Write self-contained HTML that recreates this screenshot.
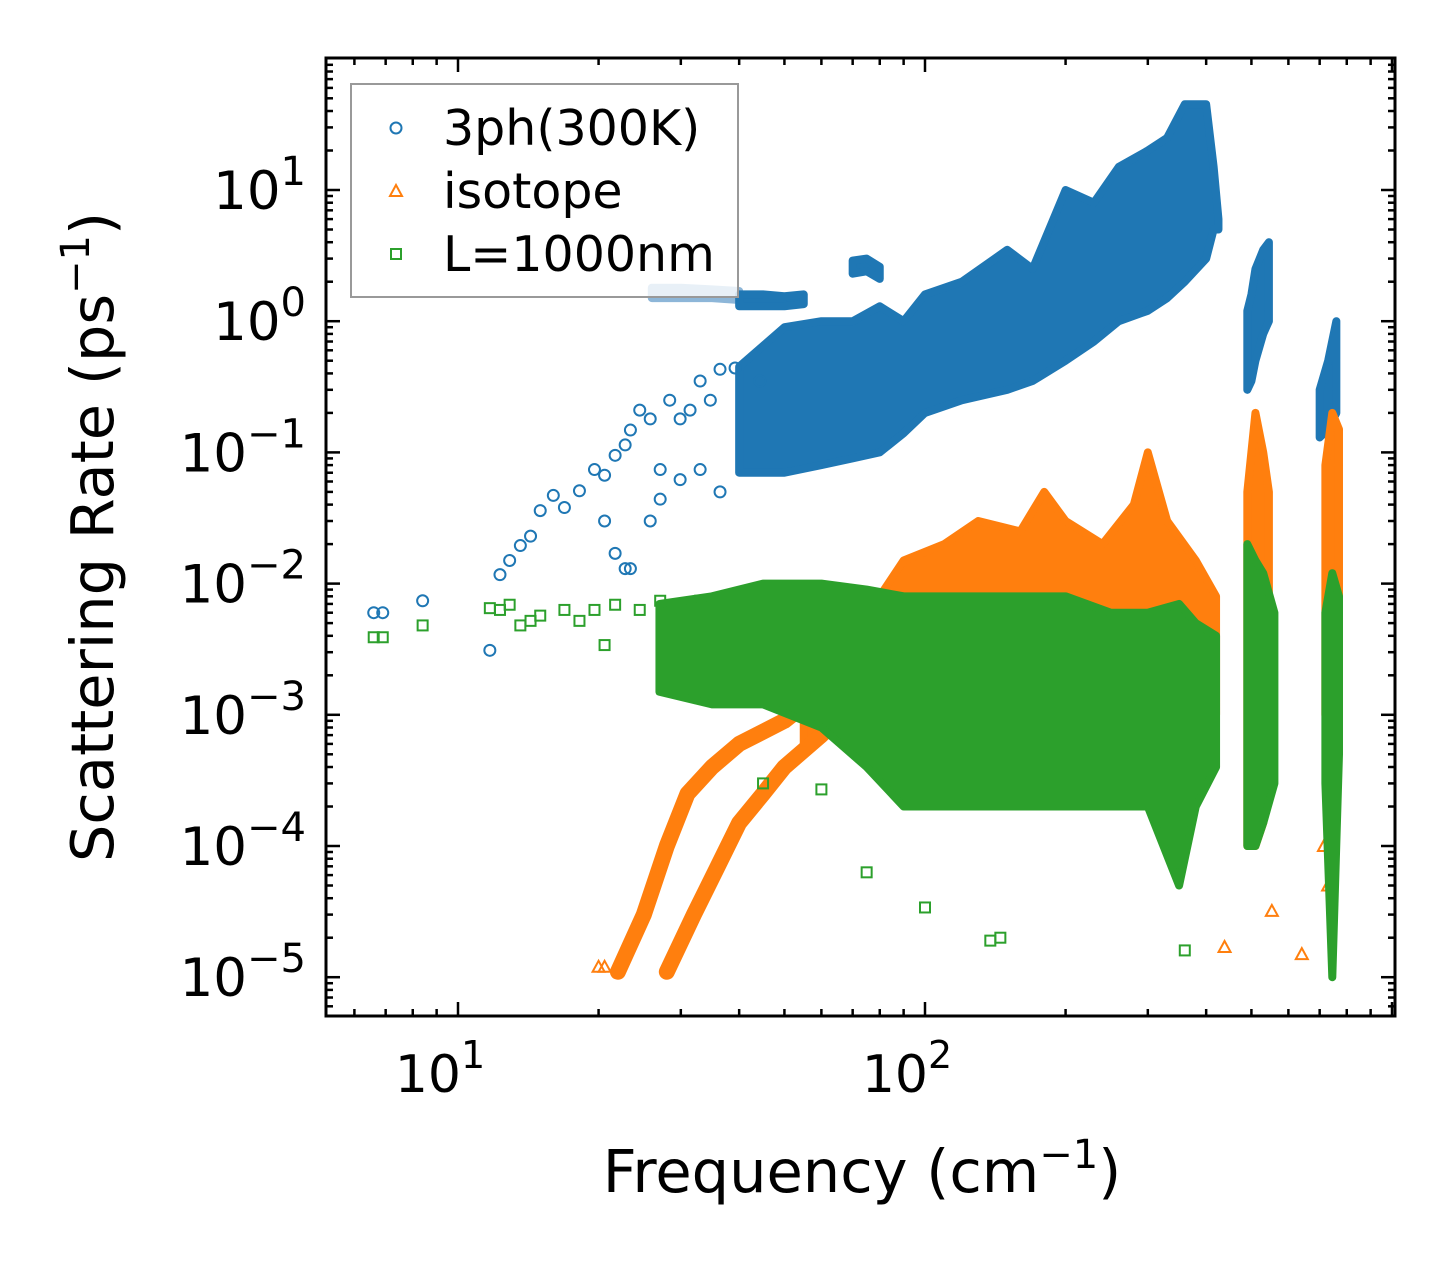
<!DOCTYPE html>
<html><head><meta charset="utf-8"><style>
body{margin:0;background:#fff;width:1455px;height:1265px;overflow:hidden}
svg text{font-family:"DejaVu Sans","Liberation Sans",sans-serif;fill:#000}
</style></head><body>
<svg id="chart" width="1455" height="1265" xmlns="http://www.w3.org/2000/svg">
<rect x="0" y="0" width="1455" height="1265" fill="#fff"/>
<g id="marks"></g>
<g id="axes"></g>
</svg>
<script>
// ---- data (frequency cm^-1, rate ps^-1) ----
const xTickVals=[10,100];
const yTickVals=[10,1,0.1,0.01,0.001,0.0001,0.00001];
const yTickExp=["1","0","\u22121","\u22122","\u22123","\u22124","\u22125"];
// blue
const blueF=[40,50,60,70,80,90,100,120,150,170,200,230,260,300,330,360,400,415,425];
const blueHi=[0.45,0.9,1.0,1.0,1.3,1.0,1.6,2.0,3.5,2.5,10,8,15,20,25,45,45,15,6];
const blueLo=[0.07,0.07,0.08,0.09,0.1,0.14,0.2,0.25,0.3,0.35,0.5,0.7,1.0,1.2,1.5,2.0,3,5,5];
const blue2F=[490,500,510,530,545];
const blue2Hi=[1.2,1.6,2.5,3.5,4];
const blue2Lo=[0.3,0.35,0.5,0.8,1.0];
const blue3F=[700,730,760];
const blue3Hi=[0.3,0.5,1.0];
const blue3Lo=[0.13,0.15,0.2];
const bluePaleF=[26,30,35,40];
const bluePaleHi=[1.8,1.8,1.75,1.7];
const bluePaleLo=[1.5,1.5,1.5,1.45];
const blueBrF=[40,45,50,55];
const blueBrHi=[1.6,1.6,1.55,1.6];
const blueBrLo=[1.3,1.3,1.3,1.35];
const blueLumpF=[70,75,80];
const blueLumpHi=[2.9,3.0,2.6];
const blueLumpLo=[2.3,2.4,2.1];
const blueSF=[6.6,6.9,8.4,11.7,12.3,12.9,13.6,14.3,15,16,16.9,18.2,19.6,20.6,21.7,22.8,23.4,24.5,25.8,27.1,28.4,29.9,31.4,33,34.7,36.4,39.2,44.3,20.6,21.7,22.8,23.4,25.8,27.1,29.9,33,36.4];
const blueSR=[0.006,0.006,0.0074,0.0031,0.0117,0.015,0.0195,0.023,0.036,0.047,0.038,0.051,0.074,0.067,0.095,0.114,0.148,0.21,0.18,0.074,0.25,0.18,0.21,0.35,0.25,0.43,0.44,0.35,0.03,0.017,0.013,0.013,0.03,0.044,0.062,0.074,0.05];
// orange
const orF=[55,65,80,90,110,130,160,180,200,240,280,300,330,380,420];
const orHi=[0.0012,0.003,0.008,0.015,0.02,0.03,0.025,0.05,0.03,0.02,0.04,0.1,0.03,0.015,0.008];
const orLo=[0.0006,0.0008,0.0008,0.001,0.001,0.001,0.001,0.001,0.001,0.001,0.001,0.001,0.001,0.001,0.001];
const orAF=[22,25,28,31,35,40,50,60];
const orAR=[1.1e-5,3e-5,1e-4,2.5e-4,4e-4,6e-4,9e-4,1.5e-3];
const orBF=[28,32,36,40,45,50,60,70];
const orBR=[1.1e-5,3e-5,7e-5,1.5e-4,2.5e-4,4e-4,7e-4,1.3e-3];
const or2F=[490,510,530,545];
const or2Hi=[0.05,0.2,0.1,0.05];
const or2Lo=[1e-4,1e-4,1.5e-4,3e-4];
const or3F=[720,745,770];
const or3Hi=[0.08,0.2,0.15];
const or3Lo=[1e-3,5e-4,1e-3];
const orSF=[20,20.6,438,553,641,715,730];
const orSR=[1.2e-5,1.2e-5,1.7e-5,3.2e-5,1.5e-5,1e-4,5e-5];
// green
const grF=[27,35,45,60,75,90,110,150,200,250,300,350,380,420];
const grHi=[0.007,0.008,0.01,0.01,0.009,0.008,0.008,0.008,0.008,0.006,0.006,0.007,0.005,0.004];
const grLo=[0.0015,0.0012,0.0012,0.0008,0.0004,0.0002,0.0002,0.0002,0.0002,0.0002,0.0002,0.00005,0.0002,0.0004];
const gr2F=[490,510,530,560];
const gr2Hi=[0.02,0.015,0.012,0.006];
const gr2Lo=[1e-4,1e-4,1.5e-4,3e-4];
const gr3F=[720,745,770];
const gr3Hi=[0.006,0.012,0.008];
const gr3Lo=[3e-4,1e-5,5e-4];
const grSF=[6.6,6.9,8.4,11.7,12.3,12.9,13.6,14.3,15,16.9,18.2,19.6,20.6,21.7,24.5,27.1,29.9,33,75,100,138,145,360,45,60];
const grSR=[0.0039,0.0039,0.0048,0.0065,0.0063,0.0069,0.0048,0.0052,0.0057,0.0063,0.0052,0.0063,0.0034,0.0069,0.0063,0.0074,0.0063,0.0074,6.3e-5,3.4e-5,1.9e-5,2e-5,1.6e-5,3e-4,2.7e-4];

// ---- axes functions ----
const L=326,R=1395,T=58,B=1016;
const X=f=>458+(Math.log10(f)-1)*467;
const Y=r=>190-(Math.log10(r)-1)*131.2;
const NS="http://www.w3.org/2000/svg";
const marks=document.getElementById('marks'), axes=document.getElementById('axes');
function mk(tag,attrs,parent){const e=document.createElementNS(NS,tag);for(const k in attrs)e.setAttribute(k,attrs[k]);parent.appendChild(e);return e;}
const C={b:"#1f77b4",o:"#ff7f0e",g:"#2ca02c"};
function band(F,Hi,Lo,col,name){
  let p=F.map((f,i)=>X(f)+","+Y(Hi[i]));
  for(let i=F.length-1;i>=0;i--)p.push(X(F[i])+","+Y(Lo[i]));
  const e=mk('polygon',{points:p.join(' '),fill:col,stroke:col,'stroke-width':8,'stroke-linejoin':'round'},marks);
  
  
}
function curve(F,Rr,col,name){
  const e=mk('polyline',{points:F.map((f,i)=>X(f)+","+Y(Rr[i])).join(' '),fill:'none',stroke:col,'stroke-width':16,'stroke-linecap':'round','stroke-linejoin':'round'},marks);
  
  
}
function circle(x,y,parent){return mk('circle',{cx:x,cy:y,r:5.5,fill:'none',stroke:C.b,'stroke-width':2},parent);}
function tri(x,y,parent){return mk('polygon',{points:`${x},${y-6} ${x+6},${y+5} ${x-6},${y+5}`,fill:'none',stroke:C.o,'stroke-width':2},parent);}
function sq(x,y,parent){return mk('rect',{x:x-5,y:y-5,width:10,height:10,fill:'none',stroke:C.g,'stroke-width':2},parent);}
function scatter(F,Rr,fn,name){F.forEach((f,i)=>{const e=fn(X(f),Y(Rr[i]),marks);
  
  });}

band(blueF,blueHi,blueLo,C.b,'3ph-main-band');
band(blue2F,blue2Hi,blue2Lo,C.b,'3ph-band-500');
band(blue3F,blue3Hi,blue3Lo,C.b,'3ph-band-740');
band(bluePaleF,bluePaleHi,bluePaleLo,"#8db6d8",'3ph-pale-band');
band(blueBrF,blueBrHi,blueBrLo,C.b,'3ph-branch');
band(blueLumpF,blueLumpHi,blueLumpLo,C.b,'3ph-lump');
scatter(blueSF,blueSR,circle,'3ph-point');
band(orF,orHi,orLo,C.o,'isotope-main-band');
curve(orAF,orAR,C.o,'isotope-curve-a');
curve(orBF,orBR,C.o,'isotope-curve-b');
band(or2F,or2Hi,or2Lo,C.o,'isotope-band-500');
band(or3F,or3Hi,or3Lo,C.o,'isotope-band-740');
scatter(orSF,orSR,tri,'isotope-point');
band(grF,grHi,grLo,C.g,'boundary-main-band');
band(gr2F,gr2Hi,gr2Lo,C.g,'boundary-band-500');
band(gr3F,gr3Hi,gr3Lo,C.g,'boundary-band-740');
scatter(grSF,grSR,sq,'boundary-point');

// ---- axes ----
let fr=mk('rect',{x:L,y:T,width:R-L,height:B-T,fill:'none',stroke:'#000','stroke-width':3},axes);


function tk(x1,y1,x2,y2){mk('line',{x1,y1,x2,y2,stroke:'#000','stroke-width':2.5},axes);}
for(let d=1;d<=1000;d*=10){for(let m=1;m<10;m++){const f=d*m;const x=X(f);if(x<L+1||x>R-1)continue;const len=m===1?14:7;tk(x,B,x,B-len);tk(x,T,x,T+len);}}
for(let d=1e-6;d<=100;d*=10){for(let m=1;m<10;m++){const r=d*m;const y=Y(r);if(y<T+1||y>B-1)continue;const len=m===1?14:7;tk(L,y,L+len,y);tk(R,y,R-len,y);}}
xTickVals.forEach((v,i)=>{const t=mk('text',{x:X(v)-18,y:1092,'font-size':52,'text-anchor':'middle'},axes);t.innerHTML=`10<tspan dy="-24" font-size="38">${Math.log10(v)}</tspan>`;
  
  });
yTickVals.forEach((v,i)=>{const t=mk('text',{x:306,y:Y(v)+19,'font-size':53,'text-anchor':'end'},axes);t.innerHTML=`10<tspan dy="-24" font-size="40">${yTickExp[i]}</tspan>`;
  
  });
let xt=mk('text',{x:862,y:1192,'font-size':59,'text-anchor':'middle'},axes);
xt.innerHTML='Frequency (cm<tspan dy="-24" font-size="40">\u22121</tspan><tspan dy="24">)</tspan>';


let yt=mk('text',{x:0,y:0,'font-size':59,'text-anchor':'middle',transform:'translate(113,537) rotate(-90)'},axes);
yt.innerHTML='Scattering Rate (ps<tspan dy="-24" font-size="40">\u22121</tspan><tspan dy="24">)</tspan>';


// legend
const lg=mk('g',{},axes);


mk('rect',{x:351,y:84,width:387,height:213,fill:'rgba(255,255,255,0.8)',stroke:'#999','stroke-width':2},lg);
const labels=["3ph(300K)","isotope","L=1000nm"],fns=[circle,tri,sq],ys=[125,188,251];
labels.forEach((s,i)=>{fns[i](396,ys[i]+3,lg);const t=mk('text',{x:443,y:ys[i]+20,'font-size':49},lg);t.textContent=s;
  
  });
</script>
</body></html>
